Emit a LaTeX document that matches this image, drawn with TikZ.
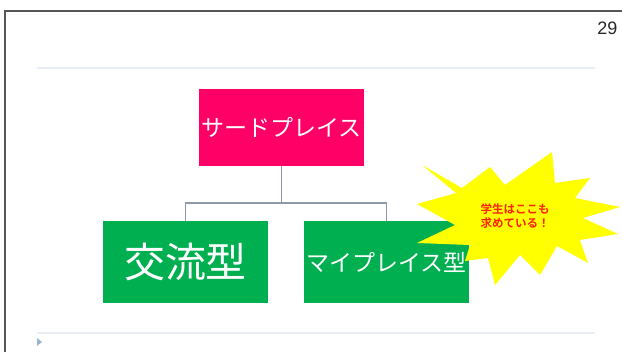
\documentclass[tikz,border=0pt]{standalone}
\usepackage{fontspec}
\setmainfont{Liberation Sans}
\newfontfamily\jp{Noto Sans CJK JP}
\newfontfamily\jpb{Noto Sans CJK JP Bold}
\definecolor{pinkbox}{HTML}{FF0066}
\definecolor{greenbox}{HTML}{00B050}
\definecolor{conn}{HTML}{8E98AA}
\definecolor{rule}{HTML}{E8EDF3}
\definecolor{tri}{HTML}{9AB4CE}
\definecolor{framec}{HTML}{555555}
\definecolor{burst}{HTML}{FFFF00}
\definecolor{bursttext}{HTML}{FF2200}
\tikzset{
  boxnode/.style={minimum width=165pt, minimum height=80pt, inner sep=0pt, text=white, font=\jp},
  connline/.style={draw=conn, line width=1.6pt},
  rulel/.style={draw=rule, line width=1.5pt}
}
\begin{document}
\begin{tikzpicture}[x=1pt,y=-1pt]
\useasboundingbox (0,0) rectangle (622,352);
\fill[white] (0,0) rectangle (622,352);
% slide frame
\draw[framec, line width=1.3pt] (5,352) -- (5,11) -- (622,11);
\node[anchor=east, font=\fontsize{18}{20}\selectfont, text=black!85] (pg) at (621,28) {29};
% rules
\coordinate (r1a) at (37,68); \coordinate (r1b) at (595,68);
\coordinate (r2a) at (37,333); \coordinate (r2b) at (595,333);
\draw[rulel] (r1a) -- (r1b);
\draw[rulel] (r2a) -- (r2b);
\fill[tri] (37,338) -- (42,342) -- (37,346) -- cycle;
% boxes
\node[boxnode, fill=pinkbox, minimum height=77pt, font=\jp\fontsize{23}{26}\selectfont] (top) at (281.5,127.5) {サードプレイス};
\node[boxnode, fill=greenbox, minimum height=82pt, font=\jp\fontsize{41}{44}\selectfont] (left) at (185.5,262) {交流型};
\node[boxnode, fill=greenbox, minimum height=82pt, font=\jp\fontsize{23}{26}\selectfont] (right) at (386.5,262) {マイプレイス型};
% connectors
\coordinate (mid) at (281.5,203);
\draw[connline] (top.south) -- (mid) -| (left.north);
\draw[connline] (mid) -| (right.north);
% starburst
\fill[burst] (422,165) -- (462,188) -- (490,167) -- (505,185) -- (552,152) -- (555,183)
  -- (590,178) -- (575,198) -- (620,207) -- (583,218) -- (618,234) -- (580,240)
  -- (588,263) -- (557,246) -- (540,275) -- (520,255) -- (495,285) -- (488,258)
  -- (465,261) -- (470,245) -- (417,243) -- (455,225) -- (417,204) -- (456,193) -- cycle;
\node[text=bursttext, font=\jpb\fontsize{11.5}{13.5}\selectfont, align=center, inner sep=0pt] (note) at (515,216) {学生はここも\\求めている！};
\end{tikzpicture}
\end{document}
